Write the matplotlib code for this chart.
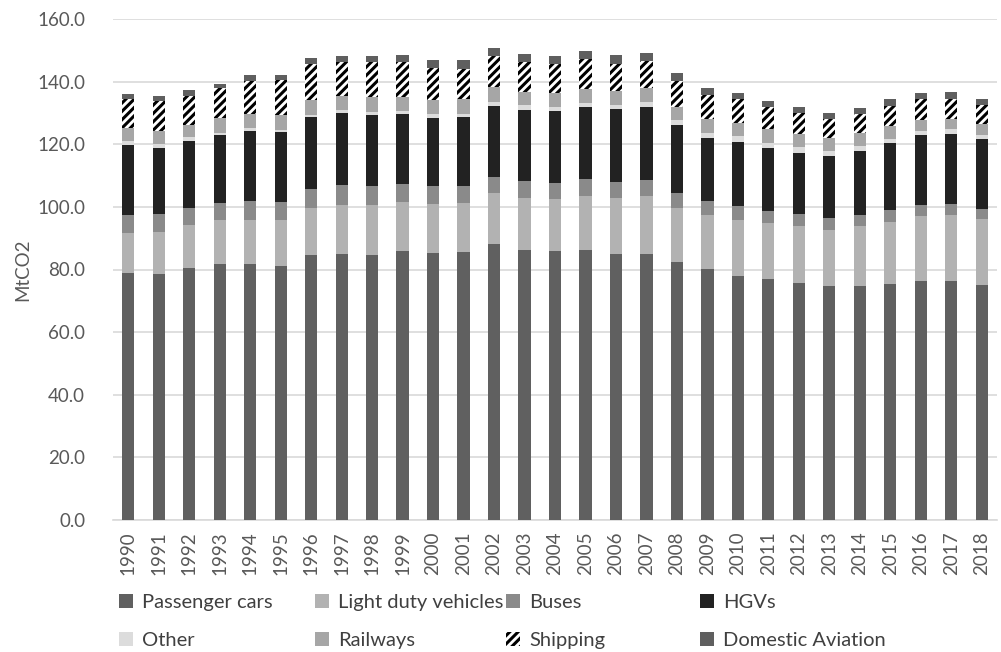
import numpy as np
import matplotlib
matplotlib.use("Agg")
from matplotlib import pyplot as plt
from matplotlib.patches import Patch

plt.rcParams['font.family'] = ['Lato', 'DejaVu Sans']
plt.rcParams['hatch.linewidth'] = 2.2

years = [str(y) for y in range(1990, 2019)]

# MtCO2 per mode
passenger_cars = [78.9, 78.6, 80.6, 81.6, 81.6, 81.2, 84.5, 85.1, 84.7, 85.8,
                  85.3, 85.5, 88.1, 86.2, 85.8, 86.2, 85.1, 85.1, 82.5, 80.2,
                  78.0, 76.9, 75.8, 74.6, 74.8, 75.4, 76.3, 76.3, 75.0]
light_duty = [12.9, 13.3, 13.6, 14.1, 14.2, 14.5, 15.0, 15.6, 16.0, 15.7,
              15.7, 15.8, 16.2, 16.6, 16.6, 17.3, 17.7, 18.4, 17.3, 17.1,
              17.8, 17.8, 18.0, 18.1, 19.0, 19.7, 20.8, 21.1, 21.0]
buses = [5.5, 5.8, 5.6, 5.4, 6.0, 5.8, 6.1, 6.2, 6.0, 5.9,
         5.6, 5.4, 5.4, 5.4, 5.2, 5.3, 5.3, 5.1, 4.5, 4.7,
         4.5, 4.1, 3.9, 3.8, 3.7, 3.8, 3.6, 3.5, 3.4]
hgvs = [22.5, 21.2, 21.3, 21.7, 22.4, 22.3, 23.1, 23.0, 22.7, 22.3,
        21.8, 21.9, 22.6, 22.8, 22.9, 23.1, 23.1, 23.3, 21.7, 19.9,
        20.3, 19.9, 19.6, 19.8, 20.3, 21.4, 22.2, 22.4, 22.3]
other = [1.1, 1.1, 1.1, 0.9, 0.9, 0.8, 0.8, 1.0, 0.9, 1.0,
         1.2, 1.1, 1.2, 1.4, 1.4, 1.4, 1.4, 1.5, 1.7, 1.7,
         1.9, 1.7, 1.7, 1.7, 1.7, 1.4, 1.3, 1.5, 1.4]
railways = [4.3, 4.3, 4.0, 4.7, 4.5, 4.7, 4.7, 4.5, 4.7, 4.3,
            4.6, 4.8, 4.7, 4.3, 4.4, 4.5, 4.4, 4.6, 4.2, 4.4,
            4.2, 4.4, 4.4, 4.1, 4.1, 4.1, 3.7, 3.3, 3.3]
shipping = [9.2, 9.5, 9.3, 9.5, 10.6, 11.2, 11.3, 10.8, 11.2, 11.2,
            10.1, 9.6, 10.0, 9.5, 9.4, 9.3, 8.7, 8.7, 8.3, 7.7,
            7.7, 7.0, 6.5, 6.1, 6.2, 6.5, 6.5, 6.5, 6.2]
aviation = [1.8, 1.5, 1.8, 1.5, 1.8, 1.7, 1.9, 2.1, 2.1, 2.3,
            2.5, 2.7, 2.5, 2.7, 2.5, 2.8, 2.7, 2.6, 2.6, 2.3,
            2.0, 2.1, 1.9, 1.9, 1.8, 2.0, 1.9, 2.0, 1.9]

labels = ["Passenger cars", "Light duty vehicles", "Buses", "HGVs",
          "Other", "Railways", "Shipping", "Domestic Aviation"]
series = [passenger_cars, light_duty, buses, hgvs, other, railways, shipping, aviation]
colors = ["#606060", "#b2b2b2", "#8a8a8a", "#222222",
          "#dcdcdc", "#a6a6a6", "white", "#5f5f5f"]
hatches = [None, None, None, None, None, None, "////", None]

fig = plt.figure(figsize=(10.01, 6.52), dpi=100)
ax = fig.add_axes([113 / 1001, 1 - 520 / 652, 884 / 1001, 501 / 652])

x = np.arange(len(years))
bottom = np.zeros(len(years))
handles = []
for vals, lab, col, h in zip(series, labels, colors, hatches):
    vals = np.array(vals)
    ax.bar(x, vals, width=0.4, bottom=bottom, color=col, hatch=h,
           edgecolor="black" if h else col, linewidth=0, label=lab, zorder=3)
    bottom += vals
    handles.append(Patch(facecolor=col, hatch=h, edgecolor="black" if h else col,
                         linewidth=0))

ax.set_xlim(-0.5, len(years) - 0.5)
ax.set_ylim(0, 160)
ax.set_yticks(np.arange(0, 161, 20))
ax.set_yticklabels([f"{v:.1f}" for v in np.arange(0, 161, 20)])
ax.set_xticks(x)
ax.set_xticklabels(years, rotation=90)
ax.grid(axis="y", color="#d9d9d9", linewidth=1.2, zorder=0)
for s in ["top", "right", "left"]:
    ax.spines[s].set_visible(False)
ax.spines["bottom"].set_color("#d9d9d9")
ax.spines["bottom"].set_linewidth(1.2)
ax.tick_params(axis="both", length=0, colors="#595959", labelsize=13.5)
ax.tick_params(axis="x", pad=8)
ax.tick_params(axis="y", pad=20)
ax.set_ylabel("MtCO2", fontsize=13.5, color="#595959", labelpad=4)

# legend: four columns, two rows
col_x = [119, 315, 506, 700]
for c in range(4):
    fig.legend([handles[c], handles[c + 4]], [labels[c], labels[c + 4]],
               loc="upper left", bbox_to_anchor=(col_x[c] / 1001, 1 - 594 / 652),
               frameon=False, fontsize=14.5, handlelength=0.7, handleheight=0.7,
               handletextpad=0.45, labelspacing=1.05, borderpad=0, borderaxespad=0,
               labelcolor="#404040")

fig.savefig("out.png", dpi=100)
